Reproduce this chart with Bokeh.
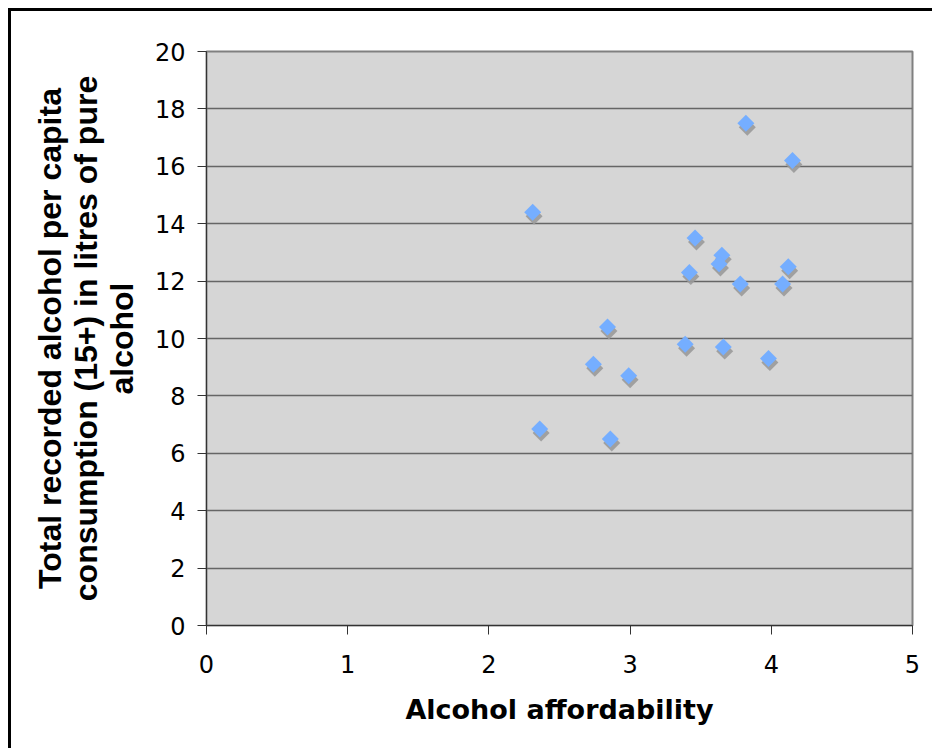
import math
from bokeh.plotting import figure
from bokeh.models import Range1d, FixedTicker, ColumnDataSource, Spacer
from bokeh.layouts import column, row
from bokeh.transform import dodge
from bokeh.embed import file_html
from bokeh.resources import INLINE

# Data
affordability = [3.82, 4.15, 2.31, 3.46, 3.65, 3.63, 4.12, 3.42, 3.78, 4.08,
                 2.84, 3.39, 3.66, 3.98, 2.74, 2.99, 2.36, 2.86]
consumption = [17.5, 16.2, 14.4, 13.5, 12.9, 12.6, 12.5, 12.3, 11.9, 11.9,
               10.4, 9.8, 9.7, 9.3, 9.1, 8.7, 6.85, 6.5]
x_ticks = [0, 1, 2, 3, 4, 5]
y_ticks = [0, 2, 4, 6, 8, 10, 12, 14, 16, 18, 20]

x_title = "Alcohol affordability"
y_title = "Total recorded alcohol per capita\nconsumption (15+) in litres of pure\nalcohol"

src = ColumnDataSource(data=dict(x=affordability, y=consumption))

p = figure(frame_width=703, frame_height=571,
           min_border_left=195, min_border_right=23,
           min_border_top=40, min_border_bottom=126,
           x_range=Range1d(0, 5), y_range=Range1d(0, 20),
           output_backend="svg", toolbar_location=None,
           background_fill_color="#D6D6D6", border_fill_color="white")

p.styles = {"border-top": "3px solid black", "border-left": "3px solid black"}

p.outline_line_color = "#808080"
p.outline_line_width = 2

p.xgrid.visible = False
p.ygrid.grid_line_color = "#666666"
p.ygrid.grid_line_width = 1.5
p.ygrid.ticker = FixedTicker(ticks=y_ticks)

for ax, ticks in ((p.xaxis, x_ticks), (p.yaxis, y_ticks)):
    ax.ticker = FixedTicker(ticks=ticks)
    ax.axis_line_color = "#333333"
    ax.major_tick_line_color = "#333333"
    ax.major_tick_out = 9
    ax.major_tick_in = 0
    ax.minor_tick_line_color = None
    ax.major_label_text_font = "DejaVu Sans"
    ax.major_label_text_font_size = "24px"
    ax.major_label_text_color = "black"
    ax.axis_label_text_color = "black"
    ax.axis_label_text_font_style = "bold"

p.xaxis.major_label_standoff = 20
p.yaxis.major_label_standoff = 12

p.xaxis.axis_label = x_title
p.xaxis.axis_label_text_font = "DejaVu Sans"
p.xaxis.axis_label_text_font_size = "27px"
p.xaxis.axis_label_standoff = 18

p.yaxis.axis_label = y_title
p.yaxis.axis_label_text_font = "Liberation Sans"
p.yaxis.axis_label_text_font_size = "32px"
p.yaxis.axis_label_standoff = 12
p.yaxis.axis_label_text_line_height = 1.0

# shadow
p.scatter(x=dodge("x", 0.01, range=p.x_range), y=dodge("y", -0.14, range=p.y_range),
          source=src, marker="square", angle=math.pi / 4, size=12,
          fill_color="#9A9A9A", line_color=None, fill_alpha=0.9)
p.scatter(x="x", y="y", source=src, marker="square", angle=math.pi / 4, size=12,
          fill_color="#75AEFF", line_color=None)

root = column(Spacer(height=8), row(Spacer(width=8), p))

open("out.html", "w").write(file_html(root, INLINE))
